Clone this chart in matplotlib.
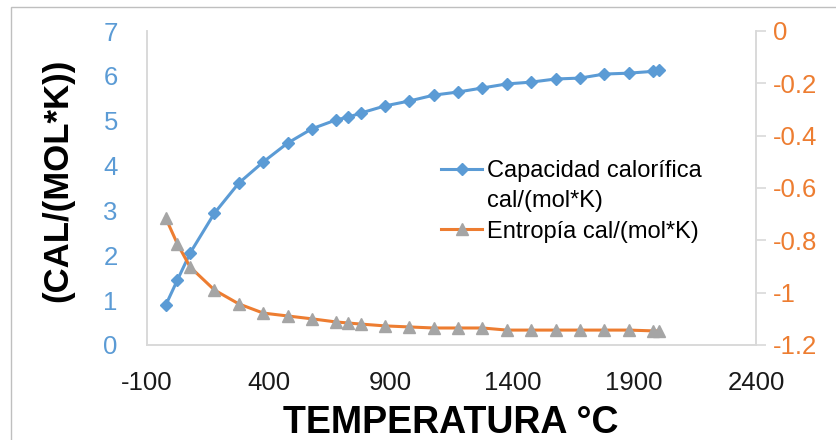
import matplotlib
matplotlib.use("Agg")
import matplotlib.pyplot as plt
from matplotlib.lines import Line2D
from matplotlib.patches import Rectangle

plt.rcParams['font.family'] = ['Liberation Sans', 'DejaVu Sans']
plt.rcParams['axes.unicode_minus'] = False

# temperaturas (°C)
temp = [-23, 25, 77, 177, 277, 377, 477, 577, 677, 727, 777, 877, 977,
        1077, 1177, 1277, 1377, 1477, 1577, 1677, 1777, 1877, 1977, 2000]
# capacidad calorifica cal/(mol*K)
cp = [0.89, 1.45, 2.05, 2.94, 3.61, 4.08, 4.50, 4.82, 5.02, 5.08, 5.17, 5.33,
      5.44, 5.57, 5.64, 5.73, 5.82, 5.86, 5.93, 5.95, 6.04, 6.06, 6.10, 6.13]
# entropia cal/(mol*K)  (eje secundario)
entropia = [-0.715, -0.814, -0.902, -0.990, -1.043, -1.078, -1.089, -1.100,
            -1.112, -1.116, -1.120, -1.127, -1.131, -1.135, -1.135, -1.135,
            -1.143, -1.143, -1.143, -1.143, -1.143, -1.143, -1.146, -1.146]

blue = '#5B9BD5'
orange = '#ED7D31'
gray = '#A5A5A5'
axis_gray = '#D9D9D9'

fig = plt.figure(figsize=(8.37, 4.4), dpi=100)
ax = fig.add_axes([147 / 837, 1 - 345 / 440, (756 - 147) / 837, (345 - 31) / 440])
ax2 = ax.twinx()

l1, = ax.plot(temp, cp, color=blue, lw=2.2, marker='D', markersize=6,
              markerfacecolor=blue, markeredgecolor=blue)
l2, = ax2.plot(temp, entropia, color=orange, lw=2.2, marker='^', markersize=9,
               markerfacecolor=gray, markeredgecolor=gray)

ax.set_xlim(-100, 2400)
ax.set_xticks([-100, 400, 900, 1400, 1900, 2400])
ax.set_ylim(0, 7)
ax.set_yticks(range(0, 8))
ax2.set_ylim(-1.2, 0)
ax2.set_yticks([-1.2, -1.0, -0.8, -0.6, -0.4, -0.2, 0])
ax2.set_yticklabels(['-1.2', '-1', '-0.8', '-0.6', '-0.4', '-0.2', '0'])

for a in (ax, ax2):
    a.spines['top'].set_visible(False)
    for s in ('left', 'right', 'bottom'):
        a.spines[s].set_color(axis_gray)
        a.spines[s].set_linewidth(1.2)

ax.tick_params(axis='y', length=0, pad=21, labelsize=18.5, labelcolor=blue)
ax.tick_params(axis='x', length=0, pad=19, labelsize=18.5, labelcolor='#1a1a1a')
ax2.tick_params(axis='y', length=7, width=1.2, color=axis_gray, pad=5,
                labelsize=18.5, labelcolor=orange)

fig.text(58 / 837, 1 - 180 / 440, '(CAL/(MOL*K))', rotation=90, fontsize=25,
         fontweight='bold', ha='center', va='center')
fig.text(451 / 837, 1 - 423 / 440, 'TEMPERATURA °C', fontsize=27,
         fontweight='bold', ha='center', va='center')

# leyenda: la segunda linea del primer rotulo va sin marcador
blank = Line2D([], [], linestyle='none')
fig.legend(handles=[l1, blank, l2],
           labels=['Capacidad calorífica', 'cal/(mol*K)', 'Entropía cal/(mol*K)'],
           loc='upper left', bbox_to_anchor=(441 / 837, 1 - 160 / 440),
           frameon=False, fontsize=17, handlelength=1.75, handletextpad=0.2,
           labelspacing=0.35, borderpad=0, borderaxespad=0)

fig.patches.append(Rectangle((11 / 837, -0.1), 0.99, 1.1 - 7 / 440,
                             transform=fig.transFigure, fill=False,
                             edgecolor='#BFBFBF', lw=1))

fig.savefig('out.png', dpi=100)
